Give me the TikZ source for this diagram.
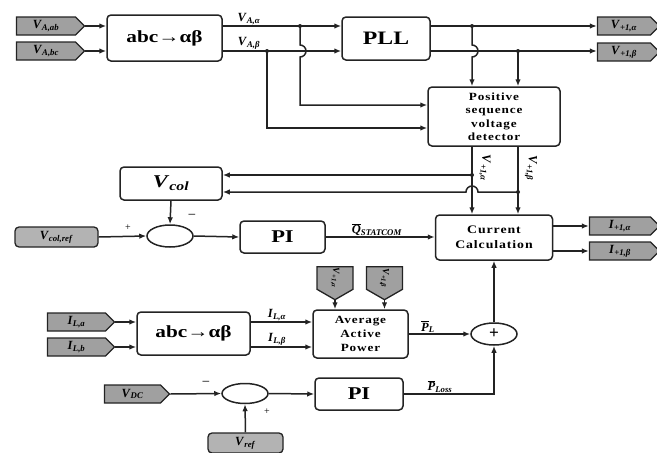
\documentclass[tikz,border=0pt]{standalone}
\usepackage{fontspec}
\setmainfont{Liberation Serif}
\newfontfamily\widefont{Liberation Serif}[FakeStretch=1.2,LetterSpace=8]
\newfontfamily\bigfont{Liberation Serif}[FakeStretch=1.25]
\usetikzlibrary{arrows.meta,shapes.symbols,shapes.geometric}
\definecolor{tagGray}{RGB}{160,160,160}
\definecolor{lineCol}{RGB}{35,35,35}
\newcommand\lbl[2]{\textbf{\textit{#1}}\textsubscript{\textbf{\textit{#2}}}}
\newcommand\ovl[1]{$\overline{\mbox{\textbf{\textit{#1}}}}$}
\tikzset{
  box/.style={draw=lineCol, rounded corners=4pt, line width=1.5pt, align=center, inner sep=0pt, fill=white},
  tag/.style={draw=lineCol, signal, signal to=east, fill=tagGray, line width=1.3pt, minimum height=18pt, inner sep=1pt, font=\fontsize{12.5}{14}\selectfont},
  dtag/.style={tag, rotate=-90, signal pointer angle=120, inner sep=0pt, minimum width=33pt, minimum height=36pt, font=\fontsize{9.5}{11}\selectfont},
  rtag/.style={draw=lineCol, rounded corners=4pt, fill=tagGray!80, line width=1.3pt, minimum height=20pt, inner sep=1pt, font=\fontsize{12.5}{14}\selectfont},
  sumc/.style={draw=lineCol, ellipse, line width=1.5pt, minimum width=46pt, minimum height=22pt, inner sep=0pt},
  arr/.style={draw=lineCol, line width=1.5pt, -{Latex[length=7pt,width=5.5pt]}},
  wire/.style={draw=lineCol, line width=1.5pt},
  lab/.style={font=\fontsize{12.5}{14}\selectfont, inner sep=1pt},
  dot/.style={fill=lineCol}
}
\begin{document}
\begin{tikzpicture}[x=1pt,y=-1pt]
\useasboundingbox (0,0) rectangle (657,453);
% ---------- top row ----------
\node[tag,minimum width=68pt] (tVab) at (46,26) {\lbl{V}{A,ab}};
\node[tag,minimum width=68pt] (tVbc) at (46,51) {\lbl{V}{A,bc}};
\node[box,minimum width=115pt,minimum height=46pt,font=\bigfont\fontsize{17}{20}\bfseries] (abc1) at (164.5,38) {abc→αβ};
\node[box,minimum width=88pt,minimum height=43pt,font=\bigfont\fontsize{19}{22}\bfseries] (PLL) at (386,38.5) {PLL};
\node[tag,minimum width=62pt] (tVpa) at (624,26) {\lbl{V}{+1,α}};
\node[tag,minimum width=62pt] (tVpb) at (624,52) {\lbl{V}{+1,β}};
\node[box,minimum width=132pt,minimum height=59pt,font=\widefont\fontsize{11}{13.5}\bfseries] (PSVD) at (494,116.5) {Positive\\sequence\\voltage\\detector};

\coordinate (j1) at (300,26);
\coordinate (j4) at (267,51);
\coordinate (j2) at (472,26);
\coordinate (j3) at (518,51);

\draw[arr] (tVab.east) -- (tVab.east -| abc1.west);
\draw[arr] (tVbc.east) -- (tVbc.east -| abc1.west);
\draw[arr] (abc1.east |- tVab) -- (PLL.west |- tVab);
\draw[arr] (abc1.east |- tVbc) -- (PLL.west |- tVbc);
\node[lab,anchor=south] at (249,26) {\lbl{V}{A,α}};
\node[lab,anchor=south] at (249,51) {\lbl{V}{A,β}};
\draw[arr] (j1) -- (300,45) arc[start angle=90,end angle=-90,radius=6pt] -- (300,105) -- (PSVD.west |- 0,105);
\draw[arr] (j4) -- (267,128) -- (PSVD.west |- 0,128);
\draw[arr] (PLL.east |- tVpa) -- (tVpa.west);
\draw[arr] (PLL.east |- tVbc) -- (tVpb.west |- tVbc);
\draw[arr] (j2) -- (472,45) arc[start angle=90,end angle=-90,radius=6pt] -- (472,0 |- PSVD.north);
\draw[arr] (j3) -- (518,0 |- PSVD.north);
\fill[dot] (j1) circle (2pt) (j2) circle (2pt) (j3) circle (2pt) (j4) circle (2pt);

% ---------- middle row ----------
\node[box,minimum width=102pt,minimum height=33pt,font=\bigfont\fontsize{18}{20}] (Vcol) at (171,183.5) {\lbl{V}{col}};
\node[sumc] (s1) at (170,236) {};
\node[rtag,minimum width=83pt] (tVcr) at (56.5,237) {\lbl{V}{col,ref}};
\node[box,minimum width=85pt,minimum height=32pt,font=\bigfont\fontsize{18}{21}\bfseries] (PI1) at (282.5,237) {PI};
\node[box,minimum width=117pt,minimum height=45pt,font=\widefont\fontsize{11.5}{15}\bfseries] (CC) at (494,237.5) {Current\\Calculation};
\node[tag,minimum width=70pt] (tIpa) at (620,226) {\lbl{I}{+1,α}};
\node[tag,minimum width=70pt] (tIpb) at (620,251) {\lbl{I}{+1,β}};

\coordinate (k1) at (472,175);
\coordinate (k2) at (518,192);
\draw[arr] (472,0 |- PSVD.south) -- (472,0 |- CC.north);
\draw[arr] (518,0 |- PSVD.south) -- (518,0 |- CC.north);
\node[lab,rotate=-90] at (485,168) {\lbl{V}{+1,α}};
\node[lab,rotate=-90] at (531,168) {\lbl{V}{+1,β}};
\draw[arr] (k1) -- (Vcol.east |- k1);
\draw[arr] (k2) -- (478,192) arc[start angle=0,end angle=180,radius=6pt] -- (Vcol.east |- k2);
\fill[dot] (k1) circle (2pt) (k2) circle (2pt);

\draw[arr] (Vcol.south) -- (s1.north);
\draw[arr] (tVcr.east) -- (s1.west);
\draw[arr] (s1.east) -- (PI1.west);
\draw[arr] (PI1.east) -- (CC.west |- PI1.east);
\node[lab,anchor=south] at (377,237) {\ovl{Q}\textsubscript{\textbf{\textit{STATCOM}}}};
\node[font=\Large] at (192,217) {−};
\node[font=\normalsize] at (128,228) {+};
\draw[arr] (CC.east |- tIpa) -- (tIpa.west);
\draw[arr] (CC.east |- tIpb) -- (tIpb.west);

% ---------- bottom rows ----------
\node[sumc] (s2) at (494,334) {};
\node[font=\LARGE\bfseries] at (s2) {+};
\node[box,minimum width=95pt,minimum height=48pt,font=\widefont\fontsize{11}{14}\bfseries] (AAP) at (360.5,334) {Average\\Active\\Power};
\node[dtag] (td1) at (335,278) {\lbl{V}{+1,α}};
\node[dtag] (td2) at (384.5,278) {\lbl{V}{+1,β}};
\node[box,minimum width=113pt,minimum height=43pt,font=\bigfont\fontsize{17}{20}\bfseries] (abc2) at (193.5,333.5) {abc→αβ};
\node[tag,minimum width=67pt] (tILa) at (76.5,322) {\lbl{I}{L,a}};
\node[tag,minimum width=67pt] (tILb) at (76.5,347) {\lbl{I}{L,b}};
\node[tag,minimum width=65pt] (tVdc) at (132.5,394) {\lbl{V}{DC}};
\node[sumc,minimum height=20pt] (s3) at (245,393.5) {};
\node[box,minimum width=88pt,minimum height=32pt,font=\bigfont\fontsize{18}{21}\bfseries] (PI2) at (359,394) {PI};
\node[rtag,minimum width=75pt] (tVref) at (245.5,443) {\lbl{V}{ref}};

\draw[arr] (s2.north) -- (CC.south);
\draw[arr] (AAP.east) -- (s2.west);
\node[lab,anchor=south] at (428,334) {\ovl{P}\textsubscript{\textbf{\textit{L}}}};
\draw[arr] (PI2.east) -- (s2 |- PI2.east) -- (s2.south);
\node[lab,anchor=south] at (440,394) {\ovl{P}\textsubscript{\textbf{\textit{Loss}}}};
\draw[arr] (td1.east) -- (td1.east |- AAP.north);
\draw[arr] (td2.east) -- (td2.east |- AAP.north);
\draw[arr] (tILa.east) -- (tILa.east -| abc2.west);
\draw[arr] (tILb.east) -- (tILb.east -| abc2.west);
\draw[arr] (abc2.east |- tILa) -- (AAP.west |- tILa);
\draw[arr] (abc2.east |- tILb) -- (AAP.west |- tILb);
\node[lab,anchor=south] at (277,322) {\lbl{I}{L,α}};
\node[lab,anchor=south] at (277,347) {\lbl{I}{L,β}};
\draw[arr] (tVdc.east) -- (s3.west);
\draw[arr] (s3.east) -- (PI2.west);
\draw[arr] (tVref.north) -- (s3.south);
\node[font=\Large] at (206,384) {−};
\node[font=\normalsize] at (267,412) {+};
\end{tikzpicture}
\end{document}
